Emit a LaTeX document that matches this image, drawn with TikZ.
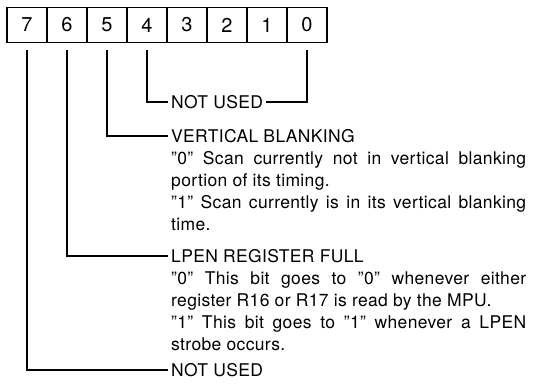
\documentclass[tikz,border=0pt]{standalone}
\usepackage{fontspec}
\setmainfont{TeX Gyre Heros}[LetterSpace=2]
\tikzstyle{bitbox} = [draw, line width=1.4pt, minimum width=40pt, minimum height=35pt, inner sep=0pt, font=\fontsize{20}{20}\selectfont]
\tikzstyle{lead} = [line width=1.4pt]
\tikzstyle{fieldname} = [anchor=west, inner sep=3pt, font=\fontsize{17.5}{22}\selectfont]
\tikzstyle{fielddesc} = [anchor=north west, inner sep=0pt, text width=355pt, align=justify, font=\fontsize{17.5}{22}\selectfont]
\begin{document}
\begin{tikzpicture}[x=1pt,y=1pt]
        \useasboundingbox (0,0) rectangle (535,-383);
        \foreach \b in {0,...,7}
          \node[bitbox] (b\b) at ({307-40*\b},-25) {\b};
        \node[fieldname] (nu4) at (168,-102) {NOT USED};
        \node[fieldname] (vb) at (168,-136) {VERTICAL BLANKING};
        \node[fielddesc] (vbd) at (171,-151.5) {''0'' Scan currently not in vertical blanking\linebreak portion of its timing.\par
          ''1'' Scan currently is in its vertical blanking\linebreak time.};
        \node[fieldname] (lp) at (168,-256) {LPEN REGISTER FULL};
        \node[fielddesc] (lpd) at (171,-271.5) {''0'' This bit goes to ''0'' whenever either\linebreak register R16 or R17 is read by the MPU.\par
          ''1'' This bit goes to ''1'' whenever a LPEN\linebreak strobe occurs.};
        \node[fieldname] (nu7) at (168,-370) {NOT USED};
        \draw[lead] ([yshift=-7pt]b4.south) |- (nu4.west);
        \draw[lead] (nu4.east) -| ([yshift=-7pt]b0.south);
        \draw[lead] ([yshift=-7pt]b5.south) |- (vb.west);
        \draw[lead] ([yshift=-7pt]b6.south) |- (lp.west);
        \draw[lead] ([yshift=-7pt]b7.south) |- (nu7.west);
\end{tikzpicture}
\end{document}
